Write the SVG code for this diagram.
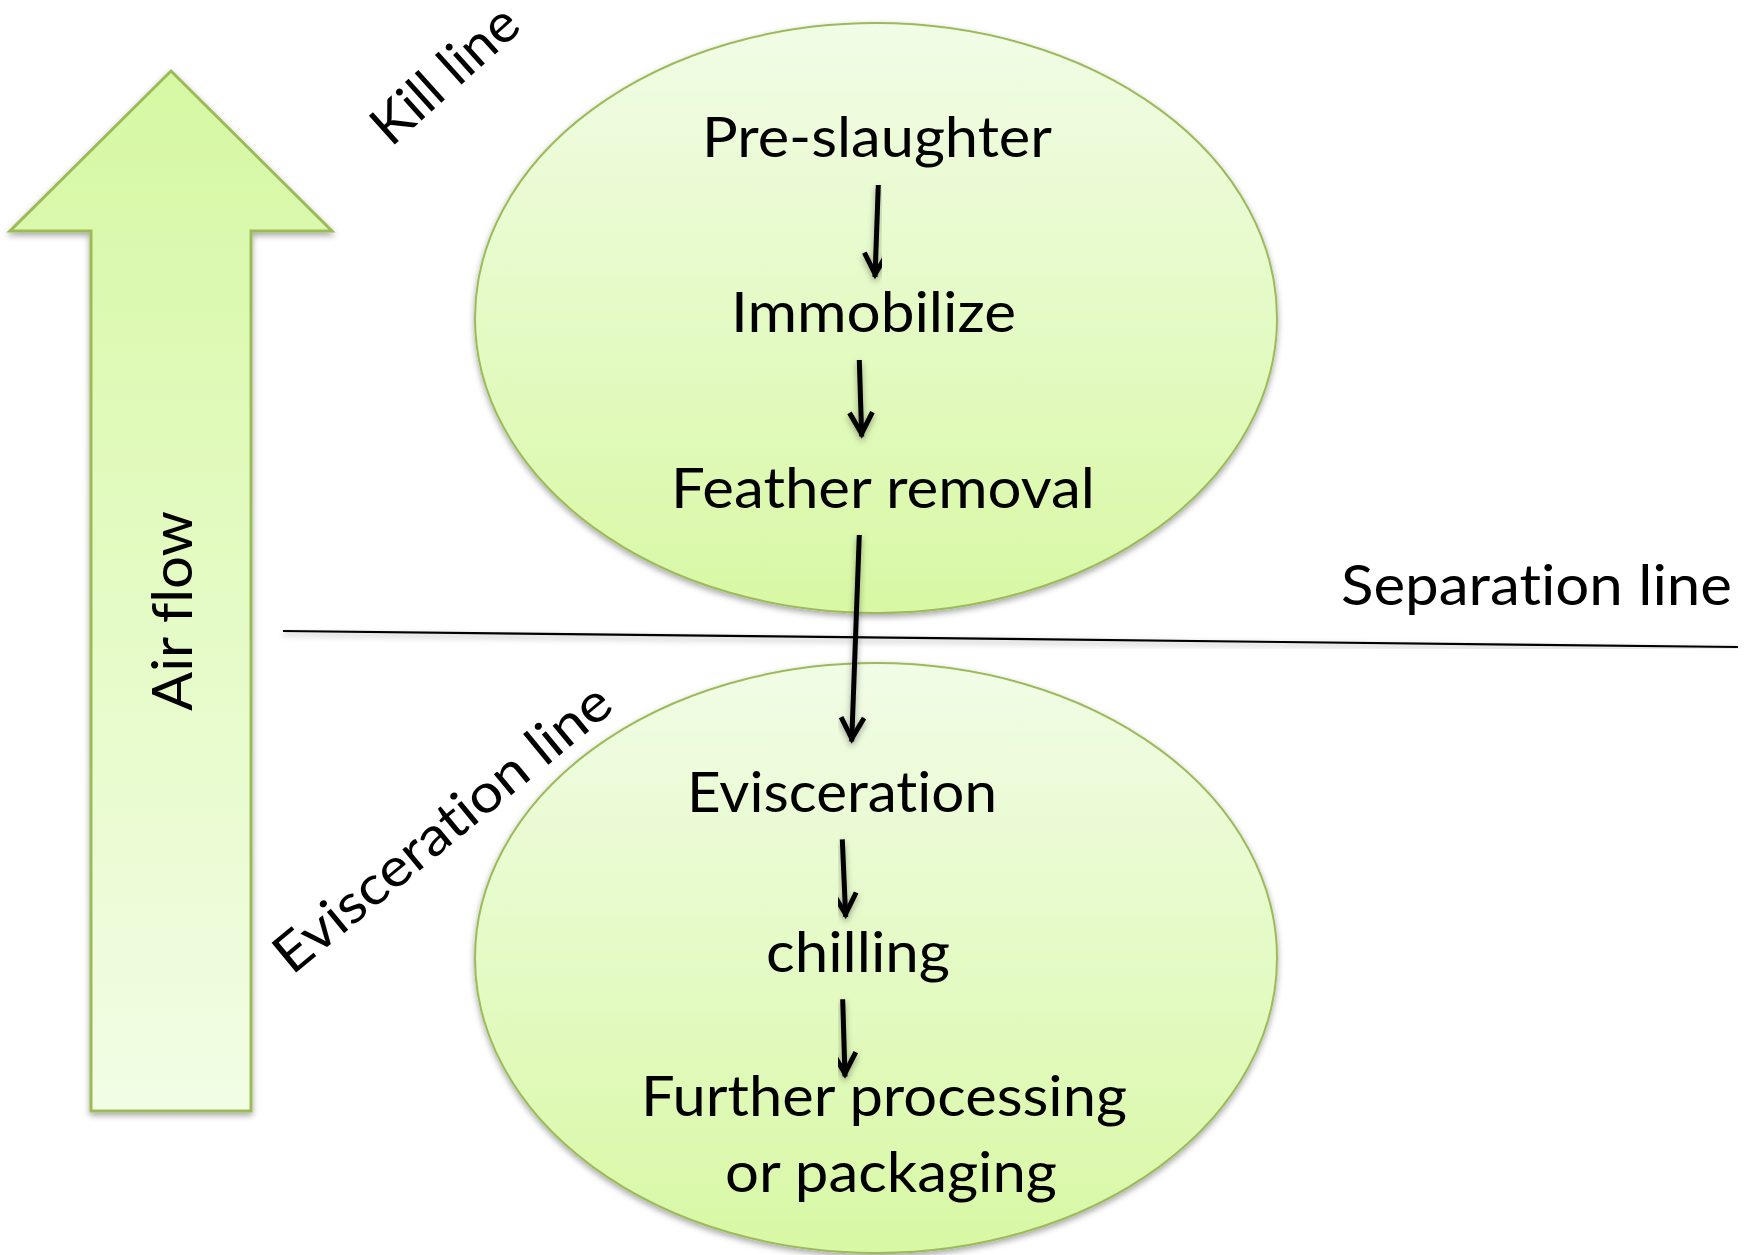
<svg xmlns="http://www.w3.org/2000/svg" width="1750" height="1255" viewBox="0 0 1750 1255">
  <defs>
    <linearGradient id="gEllipse" x1="0" y1="0" x2="0" y2="1">
      <stop offset="0" stop-color="#f1fce6"/>
      <stop offset="1" stop-color="#d8f8a4"/>
    </linearGradient>
    <linearGradient id="gArrow" x1="0" y1="0" x2="0" y2="1">
      <stop offset="0" stop-color="#d6f8a3"/>
      <stop offset="1" stop-color="#f2fde5"/>
    </linearGradient>
    <filter id="shadow" x="-10%" y="-10%" width="120%" height="120%">
      <feDropShadow dx="0" dy="3" stdDeviation="3" flood-color="#000" flood-opacity="0.35"/>
    </filter>
    <marker id="head" markerUnits="userSpaceOnUse" markerWidth="40" markerHeight="40" viewBox="-30 -20 40 40" refX="0" refY="0" orient="auto">
      <path d="M-24,-11.5 L-3,0 L-24,11.5" fill="none" stroke="#000" stroke-width="5" stroke-linejoin="miter"/>
    </marker>
    <style>
      .lbl { font-family: Lato, "Open Sans", "Liberation Sans", sans-serif; font-size: 56px; fill: #000; font-variant-ligatures: none; }
      .side { font-family: Lato, "Open Sans", "Liberation Sans", sans-serif; font-size: 54px; fill: #000; font-variant-ligatures: none; }
      .blob { fill: url(#gEllipse); stroke: #9bbb59; stroke-width: 2; filter: url(#shadow); }
      .conn { stroke: #000; stroke-width: 5; fill: none; marker-end: url(#head); }
    </style>
  </defs>

  <rect x="0" y="0" width="1750" height="1255" fill="#ffffff"/>

  <g id="airflow-arrow">
    <polygon points="171,71 332,231 251,231 251,1111 91,1111 91,231 10,231" fill="url(#gArrow)" stroke="#9bbb59" stroke-width="3" filter="url(#shadow)"/>
    <text class="lbl" transform="translate(192,711) rotate(-90)" x="0" y="0" textLength="200" lengthAdjust="spacingAndGlyphs">Air flow</text>
  </g>

  <g id="kill-line-area">
    <ellipse class="blob" cx="876" cy="318" rx="401" ry="295"/>
  </g>
  <g id="evisceration-line-area">
    <ellipse class="blob" cx="876" cy="958" rx="401" ry="295"/>
  </g>

  <g id="separation-line">
    <line x1="283" y1="631" x2="1738" y2="647" stroke="#000" stroke-width="2.2" filter="url(#shadow)"/>
    <text class="lbl" x="1341" y="605" textLength="391" lengthAdjust="spacingAndGlyphs">Separation line</text>
  </g>

  <g id="kill-line-label">
    <text class="side" transform="translate(391,148) rotate(-42)" x="0" y="0" textLength="178" lengthAdjust="spacingAndGlyphs">Kill line</text>
  </g>
  <g id="evisceration-line-label">
    <text class="side" transform="translate(292,976) rotate(-39.5)" x="0" y="0" textLength="420" lengthAdjust="spacingAndGlyphs">Evisceration line</text>
  </g>

  <g id="pre-slaughter">
    <text class="lbl" x="702" y="157" textLength="350" lengthAdjust="spacingAndGlyphs">Pre-slaughter</text>
  </g>
  <g id="immobilize">
    <text class="lbl" x="731" y="332" textLength="285" lengthAdjust="spacingAndGlyphs">Immobilize</text>
  </g>
  <g id="feather-removal">
    <text class="lbl" x="671" y="508" textLength="424" lengthAdjust="spacingAndGlyphs">Feather removal</text>
  </g>
  <g id="evisceration">
    <text class="lbl" x="687" y="812" textLength="310" lengthAdjust="spacingAndGlyphs">Evisceration</text>
  </g>
  <g id="chilling">
    <text class="lbl" x="766" y="972" textLength="184" lengthAdjust="spacingAndGlyphs">chilling</text>
  </g>
  <g id="further-processing">
    <text class="lbl" x="641" y="1116" textLength="486" lengthAdjust="spacingAndGlyphs">Further processing</text>
    <text class="lbl" x="725" y="1192" textLength="332" lengthAdjust="spacingAndGlyphs">or packaging</text>
  </g>

  <g id="connectors" filter="url(#shadow)">
    <line class="conn" x1="878.3" y1="185" x2="875" y2="277"/>
    <line class="conn" x1="859.3" y1="360" x2="861.7" y2="436.5"/>
    <line class="conn" x1="859.3" y1="535" x2="851.7" y2="741.5"/>
    <line class="conn" x1="842.3" y1="839.3" x2="845.7" y2="917"/>
    <line class="conn" x1="842.7" y1="999.3" x2="845" y2="1076.5"/>
  </g>
</svg>
